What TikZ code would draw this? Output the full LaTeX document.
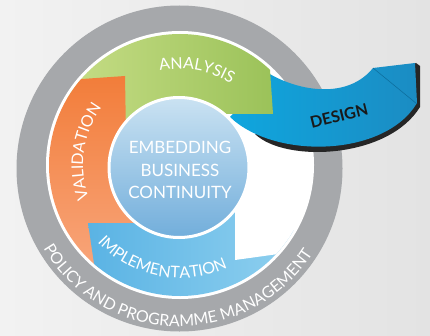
\documentclass[tikz,border=0pt]{standalone}
\usepackage{fontspec}
\setmainfont{Lato}
\usetikzlibrary{calc,decorations.text}

\definecolor{bglight}{HTML}{F2F2F2}
\definecolor{bgdark}{HTML}{E3E3E3}
\definecolor{ringgrey}{HTML}{A6A8AB}
\definecolor{analysisL}{HTML}{C6DD86}
\definecolor{analysisR}{HTML}{9BC259}
\definecolor{validT}{HTML}{F27D3A}
\definecolor{validB}{HTML}{F8A57A}
\definecolor{implL}{HTML}{5AB3E4}
\definecolor{implR}{HTML}{8FD0EF}
\definecolor{designL}{HTML}{0FA6DE}
\definecolor{designR}{HTML}{1B8CC3}
\definecolor{designFold}{HTML}{0E6F9F}
\definecolor{coreT}{HTML}{CAE2F2}
\definecolor{coreB}{HTML}{72AEDB}

\newcommand{\ringfont}{\fontsize{16}{16}\selectfont\color{white}}

\begin{document}
\begin{tikzpicture}[x=1pt,y=1pt,
			% Define styles for labels
			ring label/.style={decorate, decoration={text along path, text align=center, text={|\ringfont|#1}}},
			core text/.style={align=center, text=white, font=\fontsize{17}{22.5}\selectfont},
			design text/.style={text=black!90, font=\bfseries\fontsize{16}{16}\selectfont}
		]

		% Background
		\useasboundingbox (0,0) rectangle (430,335);
		\shade[left color=bglight, right color=bgdark] (0,0) rectangle (430,335);
		\coordinate (G) at (179.5,166.5);
		\coordinate (C) at (180,170);
		\coordinate (K) at (179,167.5);

		% Grey ring
		\fill[ringgrey] (G) circle[radius=163];
		\fill[white] (C) circle[radius=134];

		% Design ribbon with its shadow
		\fill[black!85] (416,272) -- (420,269) -- (420,228) .. controls (388,176) and (285,172) .. (255,201) -- (300,215) -- cycle;
		\shade[left color=designL, right color=designR] (250,240) -- (268,262) .. controls (300,243) and (348,236) .. (373,267)
			-- (415,272) -- (417,232) .. controls (385,178) and (275,175) .. (230,218) -- cycle;
		\draw[designFold, line width=.6pt] (373,267) -- (417,231);

		% Segments
		\shade[left color=analysisL, right color=analysisR] ($(C)+(150:131)$) arc[start angle=150, end angle=46.6, radius=131]
			-- (273,221) -- (215,221) -- (C) -- cycle;
		\shade[top color=validT, bottom color=validB] ($(C)+(139:131)$) -- (125,259) -- (126,200) -- (C)
			-- ($(C)+(232:131)$) arc[start angle=232, end angle=139, radius=131] -- cycle;
		\shade[left color=implL, right color=implR] (88,112) -- ($(C)+(229:131)$) arc[start angle=229, end angle=330, radius=131]
			-- (C) -- (145,112) -- cycle;
		\fill[white] (235,125) -- (235,75) -- ($(C)+(317:131)$) arc[start angle=317, end angle=345, radius=131] -- (C) -- cycle;

		% Centre circle
		\shade[top color=coreT, bottom color=coreB] (K) circle[radius=70];
		\draw[white, line width=3pt] (K) circle[radius=70];
		\node[core text] (core) at (180,165) {EMBEDDING\\BUSINESS\\CONTINUITY};
		\node[design text, rotate=14] (design) at (339,219) {DESIGN};

		% Labels along the ring
		\path[ring label=ANALYSIS] ($(C)+(140:96)$) arc[start angle=140, end angle=20, radius=96];
		\path[ring label=VALIDATION] ($(C)+(242:97)$) arc[start angle=242, end angle=102, radius=97];
		\path[ring label=IMPLEMENTATION] ($(C)+(200:113)$) arc[start angle=200, end angle=318, radius=113];
		\path[ring label=POLICY AND PROGRAMME MANAGEMENT] ($(G)+(180:158)$) arc[start angle=180, end angle=358, radius=158];
	\end{tikzpicture}
\end{document}
